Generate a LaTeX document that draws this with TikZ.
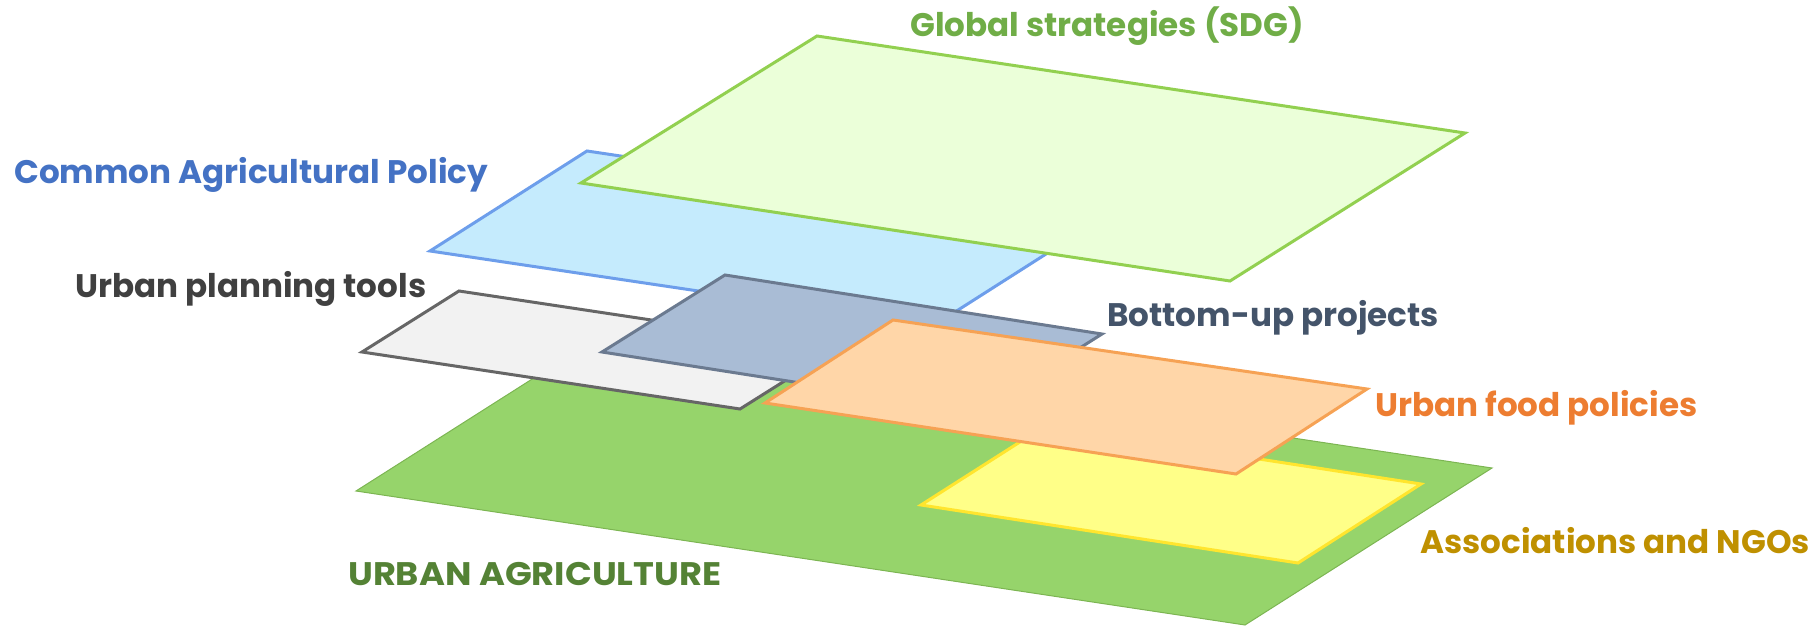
\documentclass[tikz,border=0pt]{standalone}
\usepackage{fontspec}
\setmainfont{Poppins}
\definecolor{sdgfill}{HTML}{EBFFD9}
\definecolor{sdgline}{HTML}{92D050}
\definecolor{sdgtext}{HTML}{70AD47}
\definecolor{capfill}{HTML}{C5EBFD}
\definecolor{capline}{HTML}{6D9EEB}
\definecolor{captext}{HTML}{4472C4}
\definecolor{upfill}{HTML}{F2F2F2}
\definecolor{upline}{HTML}{666666}
\definecolor{uptext}{HTML}{404040}
\definecolor{bufill}{HTML}{A9BCD5}
\definecolor{buline}{HTML}{6B7A90}
\definecolor{butext}{HTML}{44546A}
\definecolor{uffill}{HTML}{FFD6A8}
\definecolor{ufline}{HTML}{F6A254}
\definecolor{uftext}{HTML}{ED7D31}
\definecolor{asfill}{HTML}{FFFF88}
\definecolor{asline}{HTML}{FFE52E}
\definecolor{astext}{HTML}{BF9000}
\definecolor{uafill}{HTML}{96D46B}
\definecolor{ualine}{HTML}{7CB552}
\definecolor{uatext}{HTML}{548235}
\tikzset{
  plane/.style={line width=3pt, line join=miter},
  lbl/.style={anchor=west, inner sep=0pt, font=\fontsize{32.6}{38}\selectfont\bfseries}
}
\begin{document}
\begin{tikzpicture}[x=1pt,y=-1pt]
\useasboundingbox (0,0) rectangle (1812,628);
% Urban agriculture base
\coordinate (ua1) at (356,491); \coordinate (ua2) at (603,334);
\coordinate (ua3) at (1492,468); \coordinate (ua4) at (1245,625);
\draw[line width=1pt, draw=ualine, fill=uafill] (ua1) -- (ua2) -- (ua3) -- (ua4) -- cycle;
% Associations
\coordinate (as1) at (921,505); \coordinate (as2) at (1045,426);
\coordinate (as3) at (1421,484); \coordinate (as4) at (1298,563);
\draw[plane, draw=asline, fill=asfill] (as1) -- (as2) -- (as3) -- (as4) -- cycle;
% CAP
\coordinate (cap1) at (430,251); \coordinate (cap2) at (587,151);
\coordinate (cap3) at (1090,226); \coordinate (cap4) at (933,326);
\draw[plane, draw=capline, fill=capfill] (cap1) -- (cap2) -- (cap3) -- (cap4) -- cycle;
% SDG
\coordinate (sdg1) at (581,183); \coordinate (sdg2) at (817,36);
\coordinate (sdg3) at (1465,133); \coordinate (sdg4) at (1230,281);
\draw[plane, draw=sdgline, fill=sdgfill] (sdg1) -- (sdg2) -- (sdg3) -- (sdg4) -- cycle;
% Urban planning tools
\coordinate (up1) at (362,352); \coordinate (up2) at (459,291);
\coordinate (up3) at (837,348); \coordinate (up4) at (740,409);
\draw[plane, draw=upline, fill=upfill] (up1) -- (up2) -- (up3) -- (up4) -- cycle;
% Bottom-up projects
\coordinate (bu1) at (602,352); \coordinate (bu2) at (725,275);
\coordinate (bu3) at (1102,334); \coordinate (bu4) at (980,411);
\draw[plane, draw=buline, fill=bufill] (bu1) -- (bu2) -- (bu3) -- (bu4) -- cycle;
% Urban food policies
\coordinate (uf1) at (765,403); \coordinate (uf2) at (893,320);
\coordinate (uf3) at (1367,389); \coordinate (uf4) at (1236,474);
\draw[plane, draw=ufline, fill=uffill] (uf1) -- (uf2) -- (uf3) -- (uf4) -- cycle;
% labels
\node[lbl, text=sdgtext] (tsdg) at (910,26) {Global strategies (SDG)};
\node[lbl, text=captext] (tcap) at (14,175) {Common Agricultural Policy};
\node[lbl, text=uptext] (tup) at (75,289) {Urban planning tools};
\node[lbl, text=butext] (tbu) at (1107,318) {Bottom-up projects};
\node[lbl, text=uftext] (tuf) at (1375,408) {Urban food policies};
\node[lbl, text=astext] (tas) at (1420,541) {Associations and NGOs};
\node[lbl, text=uatext] (tua) at (348,574) {\scalebox{1.08}[1]{URBAN AGRICULTURE}};
\end{tikzpicture}
\end{document}
